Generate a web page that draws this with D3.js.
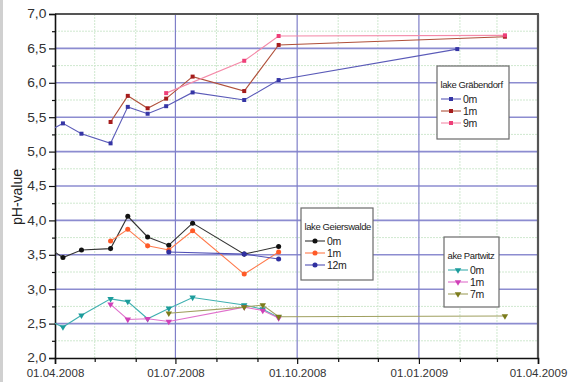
<!DOCTYPE html>
<html>
<head>
<meta charset="utf-8">
<script src="https://cdn.jsdelivr.net/npm/d3@7"></script>
<style>
  body { margin: 0; background: #fff; }
  svg { display: block; font-family: "Liberation Sans", Arial, sans-serif; }
</style>
</head>
<body>
<svg id="chart"></svg>
<script>
var WIDTH = 568;
var HEIGHT = 382;

// lake Gräbendorf
var grabDates0 = ['2008-03-28','2008-04-07','2008-04-21','2008-05-13','2008-05-26','2008-06-10','2008-06-24','2008-07-14','2008-08-22','2008-09-17','2009-01-30'];
var grabPh0    = [5.31, 5.41, 5.26, 5.12, 5.65, 5.55, 5.66, 5.86, 5.75, 6.04, 6.49];
var grabDates1 = ['2008-05-13','2008-05-26','2008-06-10','2008-06-24','2008-07-14','2008-08-22','2008-09-17','2009-03-07'];
var grabPh1    = [5.43, 5.81, 5.63, 5.77, 6.09, 5.88, 6.55, 6.67];
var grabDates9 = ['2008-06-24','2008-08-22','2008-09-17','2009-03-07'];
var grabPh9    = [5.85, 6.32, 6.68, 6.69];

// lake Geierswalde
var geierDates0  = ['2008-03-28','2008-04-07','2008-04-21','2008-05-13','2008-05-26','2008-06-10','2008-06-26','2008-07-14','2008-08-22','2008-09-17'];
var geierPh0     = [3.59, 3.46, 3.57, 3.59, 4.06, 3.76, 3.64, 3.96, 3.51, 3.62];
var geierDates1  = ['2008-05-13','2008-05-26','2008-06-10','2008-06-26','2008-07-14','2008-08-22','2008-09-17'];
var geierPh1     = [3.70, 3.87, 3.63, 3.57, 3.85, 3.22, 3.54];
var geierDates12 = ['2008-06-26','2008-08-22','2008-09-17'];
var geierPh12    = [3.54, 3.51, 3.44];

// lake Partwitz
var partDates0 = ['2008-03-28','2008-04-07','2008-04-21','2008-05-13','2008-05-26','2008-06-10','2008-06-26','2008-07-14','2008-08-22','2008-09-05','2008-09-17'];
var partPh0    = [2.54, 2.45, 2.62, 2.86, 2.82, 2.57, 2.72, 2.88, 2.77, 2.71, 2.59];
var partDates1 = ['2008-05-13','2008-05-26','2008-06-10','2008-06-26','2008-08-22','2008-09-05','2008-09-17'];
var partPh1    = [2.78, 2.56, 2.57, 2.53, 2.74, 2.69, 2.58];
var partDates7 = ['2008-06-26','2008-08-22','2008-09-05','2008-09-17','2009-03-07'];
var partPh7    = [2.65, 2.74, 2.77, 2.60, 2.61];

var yTicks = [2.0, 2.5, 3.0, 3.5, 4.0, 4.5, 5.0, 5.5, 6.0, 6.5, 7.0];
var xTickLabels = ['01.04.2008', '01.07.2008', '01.10.2008', '01.01.2009', '01.04.2009'];

var parseDate = d3.timeParse('%Y-%m-%d');
var parseTick = d3.timeParse('%d.%m.%Y');
var xTickDates = xTickLabels.map(parseTick);

var svg = d3.select('#chart').attr('width', WIDTH).attr('height', HEIGHT);

var plotLeft = 55, plotRight = 538, plotTop = 14, plotBottom = 358;

var xScale = d3.scaleTime()
  .domain([xTickDates[0], xTickDates[xTickDates.length - 1]])
  .range([plotLeft, plotRight]);
var yScale = d3.scaleLinear().domain([2, 7]).range([plotBottom, plotTop]);

// grey strip on the very left
svg.append('rect').attr('x', 0).attr('y', 0).attr('width', 3).attr('height', HEIGHT).attr('fill', '#d0d0d0');

svg.append('clipPath').attr('id', 'plot-clip')
  .append('rect').attr('x', plotLeft).attr('y', plotTop)
  .attr('width', plotRight - plotLeft).attr('height', plotBottom - plotTop);

// grid
var months = d3.timeMonth.range(xTickDates[0], xTickDates[4]);
var minorMonths = months.filter(function(d){ return d.getMonth() % 3 !== 0; });
var minorY = d3.range(2.25, 7, 0.5);

var grid = svg.append('g');
grid.selectAll('.vminor').data(minorMonths).enter().append('line')
  .attr('x1', function(d){ return xScale(d); }).attr('x2', function(d){ return xScale(d); })
  .attr('y1', plotTop).attr('y2', plotBottom)
  .attr('stroke', '#cfe8cf').attr('stroke-width', 1).attr('stroke-dasharray', '2,1');
grid.selectAll('.hminor').data(minorY).enter().append('line')
  .attr('x1', plotLeft).attr('x2', plotRight)
  .attr('y1', function(d){ return yScale(d); }).attr('y2', function(d){ return yScale(d); })
  .attr('stroke', '#cfe8cf').attr('stroke-width', 1).attr('stroke-dasharray', '2,1');
grid.selectAll('.hmajor').data(yTicks.slice(1, -1)).enter().append('line')
  .attr('x1', plotLeft).attr('x2', plotRight)
  .attr('y1', function(d){ return yScale(d); }).attr('y2', function(d){ return yScale(d); })
  .attr('stroke', '#8c8cd0').attr('stroke-width', 1.6);
grid.selectAll('.vmajor').data(xTickDates.slice(1, -1)).enter().append('line')
  .attr('x1', function(d){ return xScale(d); }).attr('x2', function(d){ return xScale(d); })
  .attr('y1', plotTop).attr('y2', plotBottom)
  .attr('stroke', '#7f7fc8').attr('stroke-width', 1.2);

// frame top and right
svg.append('line').attr('x1', plotLeft).attr('x2', plotRight + 1).attr('y1', plotTop).attr('y2', plotTop)
  .attr('stroke', '#555').attr('stroke-width', 2.2);
svg.append('line').attr('x1', plotRight).attr('x2', plotRight).attr('y1', plotTop).attr('y2', plotBottom)
  .attr('stroke', '#555').attr('stroke-width', 2.2);

// axes
var leftAxis = d3.axisLeft(yScale).tickValues(yTicks).tickSize(6).tickPadding(2)
  .tickFormat(function(d){ return d3.format('.1f')(d).replace('.', ','); });
var leftMinor = d3.axisLeft(yScale).tickValues(minorY).tickSize(3).tickFormat('');
var bottomAxis = d3.axisBottom(xScale).tickValues(xTickDates).tickSize(6).tickPadding(5)
  .tickFormat(d3.timeFormat('%d.%m.%Y'));
var bottomMinor = d3.axisBottom(xScale).tickValues(minorMonths).tickSize(4).tickFormat('');

svg.append('g').attr('id', 'y-minor').attr('transform', 'translate(' + plotLeft + ',0)').call(leftMinor);
svg.append('g').attr('id', 'y-axis').attr('transform', 'translate(' + plotLeft + ',0)').call(leftAxis);
svg.append('g').attr('id', 'x-minor').attr('transform', 'translate(0,' + plotBottom + ')').call(bottomMinor);
svg.append('g').attr('id', 'x-axis').attr('transform', 'translate(0,' + plotBottom + ')').call(bottomAxis);

svg.selectAll('#y-axis .domain, #x-axis .domain').attr('stroke', '#111').attr('stroke-width', 1.6);
svg.selectAll('#y-minor .domain, #x-minor .domain').remove();
svg.selectAll('.tick line').attr('stroke', '#111').attr('stroke-width', 1.2);
svg.selectAll('#y-axis text').attr('font-size', 12).attr('fill', '#333')
  .attr('transform', 'scale(1.15,1)').attr('x', -7.5);
svg.selectAll('#x-axis text').attr('font-size', 11.5).attr('fill', '#333');

svg.append('text')
  .attr('transform', 'translate(22,197) rotate(-90)')
  .attr('text-anchor', 'middle')
  .attr('font-size', 14).attr('fill', '#222')
  .text('pH-value');

// series
var series = [
  { dates: grabDates0, values: grabPh0, color: '#3535a5', line: '#5a5ab8', shape: d3.symbolSquare, size: 16 },
  { dates: grabDates1, values: grabPh1, color: '#a51c1c', line: '#b0503a', shape: d3.symbolSquare, size: 16 },
  { dates: grabDates9, values: grabPh9, color: '#ee3f78', line: '#f48aa8', shape: d3.symbolSquare, size: 16 },
  { dates: geierDates0, values: geierPh0, color: '#111111', line: '#333333', shape: d3.symbolCircle, size: 20 },
  { dates: geierDates1, values: geierPh1, color: '#ff5a28', line: '#ff7a4c', shape: d3.symbolCircle, size: 20 },
  { dates: geierDates12, values: geierPh12, color: '#3030a0', line: '#5050b5', shape: d3.symbolCircle, size: 20 },
  { dates: partDates0, values: partPh0, color: '#1c9c9c', line: '#3fb0b0', shape: d3.symbolTriangle, size: 18 },
  { dates: partDates1, values: partPh1, color: '#d040b8', line: '#e070cc', shape: d3.symbolTriangle, size: 18 },
  { dates: partDates7, values: partPh7, color: '#7c7c1c', line: '#a0a060', shape: d3.symbolTriangle, size: 18 }
];

var lineGen = d3.line()
  .x(function(d){ return xScale(d.date); })
  .y(function(d){ return yScale(d.value); });

var plot = svg.append('g').attr('clip-path', 'url(#plot-clip)');

series.forEach(function(s){
  var pts = s.dates.map(function(d, i){ return { date: parseDate(d), value: s.values[i] }; });
  plot.append('path').datum(pts)
    .attr('d', lineGen)
    .attr('fill', 'none')
    .attr('stroke', s.line)
    .attr('stroke-width', 1.1);
  plot.selectAll(null).data(pts).enter().append('path')
    .attr('d', d3.symbol().type(s.shape).size(s.size))
    .attr('transform', function(d){
      var rot = s.shape === d3.symbolTriangle ? ' rotate(180)' : '';
      return 'translate(' + xScale(d.date) + ',' + yScale(d.value) + ')' + rot;
    })
    .attr('fill', s.color);
});

// legends
var legends = [
  { title: 'lake Gräbendorf', names: ['0m', '1m', '9m'], items: series.slice(0, 3), x: 437, y: 66, w: 72, h: 73 },
  { title: 'lake Geierswalde', names: ['0m', '1m', '12m'], items: series.slice(3, 6), x: 301, y: 208, w: 72, h: 72 },
  { title: 'ake Partwitz', names: ['0m', '1m', '7m'], items: series.slice(6, 9), x: 444, y: 237, w: 55, h: 70 }
];

legends.forEach(function(L){
  var g = svg.append('g').attr('transform', 'translate(' + L.x + ',' + L.y + ')');
  g.append('rect').attr('x', 0).attr('y', 0).attr('width', L.w).attr('height', L.h)
    .attr('fill', '#fff').attr('stroke', '#6a6a6a').attr('stroke-width', 1.2);
  g.append('text').attr('x', 3.5).attr('y', 22).attr('font-size', 9.5).attr('fill', '#222')
    .attr('letter-spacing', -0.4).text(L.title);
  L.items.forEach(function(s, i){
    var yy = 33 + i * 12;
    g.append('line').attr('x1', 4).attr('x2', 24).attr('y1', yy).attr('y2', yy)
      .attr('stroke', s.line).attr('stroke-width', 1.1);
    g.append('path')
      .attr('d', d3.symbol().type(s.shape).size(s.size))
      .attr('transform', 'translate(14,' + yy + ')' + (s.shape === d3.symbolTriangle ? ' rotate(180)' : ''))
      .attr('fill', s.color);
    g.append('text').attr('x', 26).attr('y', yy + 4).attr('font-size', 10.5).attr('fill', '#222')
      .attr('letter-spacing', -0.4).text(L.names[i]);
  });
});
</script>
</body>
</html>
